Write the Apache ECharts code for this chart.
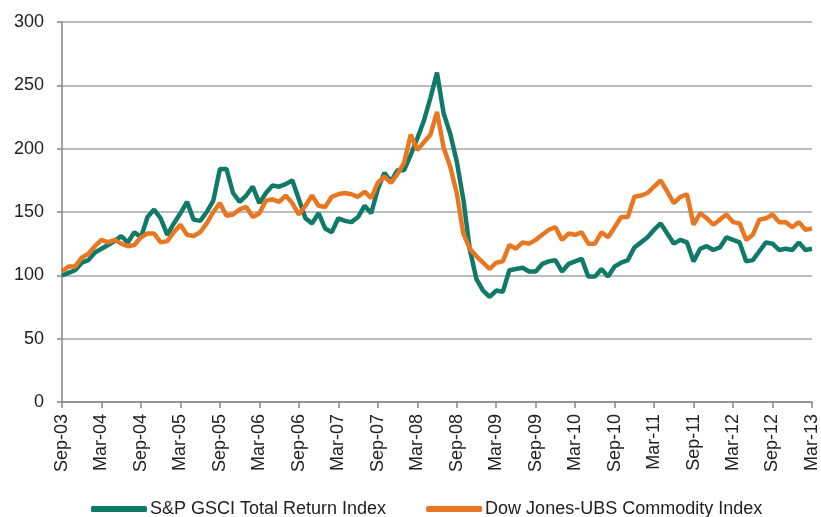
<!DOCTYPE html>
<html>

<head>
    <meta charset="UTF-8">
    <title>Commodity indices</title>
    <script src="https://cdn.jsdelivr.net/npm/echarts@6/dist/echarts.min.js"></script>
</head>

<body style="margin:0">
    <div id="chart" style="width: 821px; height: 517px;"></div>
    <script>
        // monthly, Sep-03 .. Mar-13
        var monthNames = ['Jan', 'Feb', 'Mar', 'Apr', 'May', 'Jun', 'Jul', 'Aug', 'Sep', 'Oct', 'Nov', 'Dec'];
        var startYear = 2003, startMonth = 8, monthCount = 115;

        var gsci = [
            100, 102, 104, 110, 112, 118, 121, 124, 127, 131,
            126, 134, 130, 146, 152, 145, 132, 141, 149, 158,
            144, 143, 150, 159, 184, 184, 165, 158, 163, 170,
            157, 165, 171, 170, 172, 175, 160, 145, 141, 149,
            137, 134, 145, 143, 142, 146, 155, 149, 168, 181,
            174, 183, 183, 195, 208, 222, 240, 260, 228, 212,
            190, 160, 120, 97, 88, 83, 88, 87, 104, 105,
            106, 103, 103, 109, 111, 112, 103, 109, 111, 113,
            99, 99, 105, 99, 107, 110, 112, 122, 126, 130,
            136, 141, 133, 125, 128, 126, 111, 121, 123, 120,
            122, 130, 128, 126, 111, 112, 119, 126, 125, 120,
            121, 120, 126, 120, 121
        ];

        var djubs = [
            103, 107, 107, 114, 117, 123, 128, 126, 128, 125,
            123, 124, 130, 133, 133, 126, 127, 134, 140, 132,
            131, 134, 141, 150, 157, 147, 148, 152, 154, 146,
            149, 159, 160, 158, 163, 157, 148, 155, 163, 155,
            154, 162, 164, 165, 164, 162, 166, 161, 173, 178,
            173, 180, 189, 211, 199, 205, 211, 229, 201, 186,
            165, 133, 121, 115, 110, 105, 110, 111, 124, 121,
            126, 125, 128, 132, 136, 138, 128, 133, 132, 134,
            125, 125, 134, 130, 138, 146, 146, 162, 163, 165,
            170, 175, 166, 157, 162, 164, 140, 149, 145, 140,
            144, 148, 142, 141, 128, 132, 144, 145, 148, 142,
            142, 138, 142, 136, 137
        ];

        var months = [];
        for (var i = 0; i < monthCount; i++) {
            var m = (startMonth + i) % 12;
            var y = startYear + Math.floor((startMonth + i) / 12);
            months.push(monthNames[m] + '-' + String(y % 100).padStart(2, '0'));
        }

        var font = '"Liberation Sans", Arial, sans-serif';
        var chart = echarts.init(document.getElementById('chart'), null, { renderer: 'canvas' });

        chart.setOption({
            backgroundColor: '#ffffff',
            animation: false,
            grid: { left: 62, right: 9, top: 22, bottom: 115 },
            legend: {
                top: 495,
                left: 86,
                itemWidth: 56,
                itemHeight: 6,
                itemGap: 40,
                icon: 'roundRect',
                textStyle: { fontFamily: font, fontSize: 18, color: '#222', padding: [0, 0, 0, -2] },
                data: ['S&P GSCI Total Return Index', 'Dow Jones-UBS Commodity Index']
            },
            xAxis: {
                type: 'category',
                boundaryGap: false,
                data: months,
                axisLine: { lineStyle: { color: '#868686', width: 1.5 } },
                axisTick: { interval: 5, length: 6, lineStyle: { color: '#868686', width: 1.5 } },
                axisLabel: {
                    interval: 5, rotate: 90, margin: 12,
                    fontFamily: font, fontSize: 18, color: '#222'
                },
                splitLine: { show: false }
            },
            yAxis: {
                type: 'value',
                min: 0, max: 300, interval: 50,
                axisLine: { show: true, lineStyle: { color: '#868686', width: 1.5 } },
                axisTick: { show: true, length: 5, lineStyle: { color: '#868686', width: 1.5 } },
                axisLabel: { margin: 18, fontFamily: font, fontSize: 18, color: '#222' },
                splitLine: { lineStyle: { color: '#a6a6a6', width: 1.5 } }
            },
            series: [
                {
                    name: 'S&P GSCI Total Return Index',
                    type: 'line',
                    data: gsci,
                    symbol: 'none',
                    color: '#0f7a68',
                    lineStyle: { width: 4.5, color: '#0f7a68' }
                },
                {
                    name: 'Dow Jones-UBS Commodity Index',
                    type: 'line',
                    data: djubs,
                    symbol: 'none',
                    color: '#e87722',
                    lineStyle: { width: 4.5, color: '#e87722' }
                }
            ]
        });
    </script>
</body>

</html>
